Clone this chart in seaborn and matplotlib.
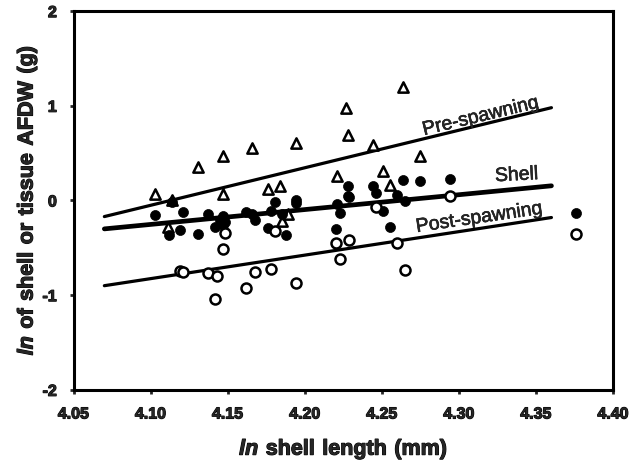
import pandas as pd
import seaborn as sns
import matplotlib
matplotlib.use("Agg")
import matplotlib.pyplot as plt
import matplotlib.patheffects as pe

# pre-spawning tissue (open triangles)
pre_x = [4.103, 4.114, 4.111, 4.131, 4.147, 4.147, 4.166, 4.176, 4.184, 4.185,
         4.189, 4.194, 4.221, 4.227, 4.228, 4.244, 4.251, 4.255, 4.264, 4.275]
pre_y = [0.07, 0.00, -0.28, 0.35, 0.47, 0.07, 0.55, 0.12, 0.15, -0.22,
         -0.14, 0.61, 0.26, 0.98, 0.69, 0.59, 0.31, 0.16, 1.20, 0.47]

# shell (filled circles)
shell_x = [4.103, 4.112, 4.114, 4.119, 4.121, 4.131, 4.137, 4.142, 4.145, 4.147,
           4.148, 4.147, 4.162, 4.166, 4.168, 4.176, 4.178, 4.181, 4.185, 4.188,
           4.194, 4.194, 4.221, 4.223, 4.220, 4.228, 4.228, 4.229, 4.244, 4.246,
           4.251, 4.255, 4.260, 4.264, 4.265, 4.275, 4.294, 4.376]
shell_y = [-0.15, -0.36, -0.02, -0.31, -0.12, -0.35, -0.14, -0.28, -0.21, -0.16,
           -0.23, -0.26, -0.12, -0.14, -0.21, -0.29, -0.11, -0.02, -0.14, -0.36,
           0.01, -0.03, -0.04, -0.13, -0.30, 0.15, 0.05, 0.04, 0.15, 0.08,
           -0.11, -0.28, 0.06, 0.22, -0.01, 0.21, 0.23, -0.13]

# post-spawning tissue (open circles)
post_x = [4.119, 4.121, 4.137, 4.143, 4.142, 4.147, 4.148, 4.162, 4.168, 4.178,
          4.181, 4.194, 4.220, 4.223, 4.229, 4.246, 4.260, 4.265, 4.294, 4.376]
post_y = [-0.75, -0.76, -0.77, -0.80, -1.04, -0.51, -0.34, -0.92, -0.76, -0.72,
          -0.32, -0.87, -0.45, -0.62, -0.42, -0.07, -0.45, -0.73, 0.05, -0.35]

# fitted regression lines (end points)
fit_x = [4.07, 4.36]
pre_fit = [-0.17, 0.98]
shell_fit = [-0.30, 0.155]
post_fit = [-0.90, -0.18]

xticks = [4.05, 4.10, 4.15, 4.20, 4.25, 4.30, 4.35, 4.40]
xtick_labels = ["4.05", "4.10", "4.15", "4.20", "4.25", "4.30", "4.35", "4.40"]
yticks = [-2, -1, 0, 1, 2]
ytick_labels = ["-2", "-1", "0", "1", "2"]

sns.set_style("ticks")
plt.rcParams["font.family"] = ["Liberation Sans", "DejaVu Sans"]
plt.rcParams["font.weight"] = "bold"
plt.rcParams["mathtext.fontset"] = "custom"
plt.rcParams["mathtext.rm"] = "Liberation Sans"
plt.rcParams["mathtext.bf"] = "Liberation Sans:bold"
plt.rcParams["mathtext.bfit"] = "Liberation Sans:italic:bold"

fig, ax = plt.subplots(figsize=(6.42, 4.63), dpi=100)
fig.subplots_adjust(left=0.1145, right=0.955, top=0.976, bottom=0.158)

fits = pd.DataFrame({"x": fit_x, "pre": pre_fit, "shell": shell_fit, "post": post_fit})
sns.lineplot(data=fits, x="x", y="pre", color="black", lw=2.3, ax=ax)
sns.lineplot(data=fits, x="x", y="shell", color="black", lw=3.4, ax=ax)
sns.lineplot(data=fits, x="x", y="post", color="black", lw=2.3, ax=ax)

sns.scatterplot(x=pre_x, y=pre_y, marker="^", s=55, facecolor="white",
                edgecolor="black", linewidth=1.8, ax=ax, zorder=3)
sns.scatterplot(x=shell_x, y=shell_y, marker="o", s=52, color="black",
                edgecolor="black", linewidth=0.5, ax=ax, zorder=4)
sns.scatterplot(x=post_x, y=post_y, marker="o", s=52, facecolor="white",
                edgecolor="black", linewidth=1.8, ax=ax, zorder=4)

light = [pe.withStroke(linewidth=0.4, foreground="black")]
ax.text(4.3145, 0.884, "Pre-spawning", rotation=13.5, ha="center", va="center",
        fontsize=14, fontweight="normal", path_effects=light)
ax.text(4.3375, 0.262, "Shell", rotation=3, ha="center", va="center",
        fontsize=14, fontweight="normal", path_effects=light)
ax.text(4.3135, -0.188, "Post-spawning", rotation=8.4, ha="center", va="center",
        fontsize=14, fontweight="normal", path_effects=light)

ax.set_xlim(4.05, 4.40)
ax.set_ylim(-2, 2)
ax.set_xticks(xticks)
ax.set_xticklabels(xtick_labels)
ax.set_yticks(yticks)
ax.set_yticklabels(ytick_labels)

for sp in ax.spines.values():
    sp.set_linewidth(2.2)
    sp.set_color("black")
ax.tick_params(direction="out", length=3, width=2.0, pad=9, labelsize=11.5)

ax.set_xlabel(r"$\mathbfit{ln}\ \mathbf{shell\ length\ (mm)}$", fontsize=15.5, labelpad=11)
ax.set_ylabel(r"$\mathbfit{ln}\ \mathbf{of\ shell\ or\ tissue\ AFDW\ (g)}$", fontsize=15.5, labelpad=2)

# heavier strokes, like the scanned original
heavy = [pe.withStroke(linewidth=0.8, foreground="black")]
for lab in ax.get_xticklabels() + ax.get_yticklabels():
    lab.set_path_effects(heavy)
ax.xaxis.label.set_path_effects(heavy)
ax.yaxis.label.set_path_effects(heavy)

fig.savefig("out.png", dpi=100)
